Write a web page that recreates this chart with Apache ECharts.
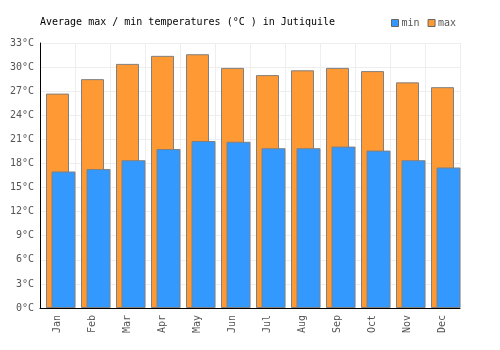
<!DOCTYPE html>
<html>
<head>
<meta charset="utf-8">
<script src="https://cdn.jsdelivr.net/npm/echarts@6/dist/echarts.min.js"></script>
<style>
  html, body { margin: 0; padding: 0; background: #fff; }
  #chart { width: 500px; height: 350px; }
</style>
</head>
<body>
<div id="chart"></div>
<script>
const months = ['Jan', 'Feb', 'Mar', 'Apr', 'May', 'Jun', 'Jul', 'Aug', 'Sep', 'Oct', 'Nov', 'Dec'];
const maxTemps = [26.7, 28.5, 30.4, 31.4, 31.6, 29.9, 29.0, 29.6, 29.9, 29.5, 28.1, 27.5];
const minTemps = [17.0, 17.3, 18.4, 19.8, 20.8, 20.7, 19.9, 19.9, 20.1, 19.6, 18.4, 17.5];

const font = 'DejaVu Sans Mono';
const myChart = echarts.init(document.getElementById('chart'));

const option = {
  animation: false,
  title: {
    text: 'Average max / min temperatures (°C ) in Jutiquile',
    left: 40,
    top: 17,
    padding: 0,
    textStyle: { fontFamily: font, fontSize: 10, fontWeight: 'normal', color: '#000' }
  },
  legend: {
    left: 391,
    top: 18,
    padding: 0,
    itemWidth: 7,
    itemHeight: 7,
    itemGap: 8,
    icon: 'rect',
    data: ['min', 'max'],
    itemStyle: { borderColor: '#666', borderWidth: 1 },
    textStyle: { fontFamily: font, fontSize: 10, color: '#555', padding: [0, 0, 0, -2] }
  },
  grid: [
    { left: 40, right: 40, top: 43, bottom: 42 },
    { left: 46, right: 34, top: 43, bottom: 42 }
  ],
  xAxis: [
    {
      type: 'category',
      gridIndex: 0,
      data: months,
      axisLine: { lineStyle: { color: '#000', width: 1 } },
      axisTick: { show: false },
      axisLabel: { rotate: 90, margin: 7, fontFamily: font, fontSize: 10, color: '#555' },
      splitLine: { show: true, lineStyle: { color: '#eee' } }
    },
    {
      type: 'category',
      gridIndex: 1,
      data: months,
      show: false
    }
  ],
  yAxis: [
    {
      type: 'value',
      gridIndex: 0,
      min: 0,
      max: 33,
      interval: 3,
      axisLine: { show: true, lineStyle: { color: '#000', width: 1 } },
      axisTick: { show: false },
      axisLabel: { formatter: '{value}°C', margin: 6, fontFamily: font, fontSize: 10, color: '#555' },
      splitLine: { lineStyle: { color: '#eee' } }
    },
    {
      type: 'value',
      gridIndex: 1,
      min: 0,
      max: 33,
      interval: 3,
      show: false,
      splitLine: { show: false }
    }
  ],
  series: [
    {
      name: 'max',
      type: 'bar',
      xAxisIndex: 0,
      yAxisIndex: 0,
      barWidth: 23,
      itemStyle: { color: '#ff9933', borderColor: '#808080', borderWidth: 1 },
      data: maxTemps,
      z: 2
    },
    {
      name: 'min',
      type: 'bar',
      xAxisIndex: 1,
      yAxisIndex: 1,
      barWidth: 24,
      itemStyle: { color: '#3399ff', borderColor: '#808080', borderWidth: 1 },
      data: minTemps,
      z: 3
    }
  ]
};

myChart.setOption(option);
</script>
</body>
</html>
